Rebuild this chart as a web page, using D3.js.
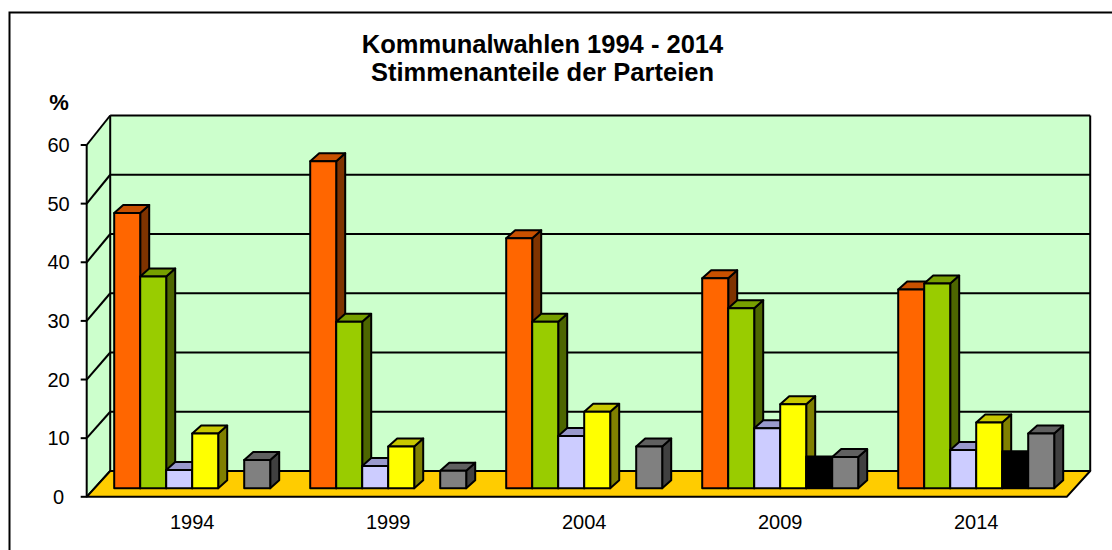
<!DOCTYPE html>
<html>
<head>
<meta charset="utf-8">
<script src="https://cdn.jsdelivr.net/npm/d3@7"></script>
<style>
  html, body { margin: 0; padding: 0; background: #ffffff; }
  svg { display: block; font-family: "Liberation Sans", Arial, sans-serif; }
</style>
</head>
<body>
<svg id="chart" width="1112" height="550"></svg>
<script>
// Election years (categories)
const years = ["1994", "1999", "2004", "2009", "2014"];

// Vote shares in percent, one array per party
const partyOrange = [46.8, 55.6, 42.5, 35.7, 33.8];
const partyGreen  = [36.0, 28.3, 28.3, 30.6, 34.8];
const partyLilac  = [3.1, 3.8, 8.9, 10.2, 6.5];
const partyYellow = [9.3, 7.1, 13.0, 14.3, 11.2];
const partyBlack  = [0, 0, 0, 5.4, 6.3];
const partyGrey   = [4.8, 3.0, 7.1, 5.3, 9.3];

// Value axis ticks
const yTicks = [0, 10, 20, 30, 40, 50, 60];

const titleLines = ["Kommunalwahlen 1994 - 2014", "Stimmenanteile der Parteien"];

// Face colours: front, top, right side (null = face not painted)
const faceColors = [
  ["#FF6600", "#C85000", "#7F3300"],
  ["#99CC00", "#779F00", "#4D6600"],
  ["#CCCCFF", "#9999CC", "#666699"],
  ["#FFFF00", "#C8C800", "#808000"],
  ["#000000", null, null],
  ["#808080", "#606060", "#404040"]
];

const series = [partyOrange, partyGreen, partyLilac, partyYellow, partyBlack, partyGrey];

const svg = d3.select("#chart");

// ---- geometry of the 3D box ----
const frontLeft = 86.7, frontRight = 1066.7;
const wallDX = 23.5;                         // depth shift of the back wall
const yFront = d3.scaleLinear().domain([0, 60]).range([496.8, 145]);
const yBack  = d3.scaleLinear().domain([0, 60]).range([471, 115.5]);

// bars stand on a plane slightly behind the front edge
const barShiftX = 7.5;
const yBar = d3.scaleLinear().domain([0, 60]).range([488.3, 488.3 - 60 * 5.883]);
const barDX = 9, barDY = -8;                 // bar depth

const xCat = d3.scaleBand()
  .domain(years)
  .range([frontLeft, frontRight])
  .paddingInner(40 / 196)
  .paddingOuter(20 / 196);
const xSer = d3.scaleBand()
  .domain(d3.range(series.length))
  .range([0, xCat.bandwidth()]);

const backLeft = frontLeft + wallDX, backRight = frontRight + wallDX;

// ---- outer frame ----
svg.append("rect")
  .attr("x", 9.5).attr("y", 12.5)
  .attr("width", 1200).attr("height", 600)
  .attr("fill", "#ffffff").attr("stroke", "#000").attr("stroke-width", 2);

// ---- walls ----
const wallColor = "#CCFFCC";
svg.append("rect")
  .attr("x", backLeft).attr("y", yBack(60))
  .attr("width", backRight - backLeft).attr("height", yBack(0) - yBack(60))
  .attr("fill", wallColor);
svg.append("polygon")
  .attr("points", [
    [frontLeft, yFront(60)], [backLeft, yBack(60)],
    [backLeft, yBack(0)], [frontLeft, yFront(0)]
  ].map(p => p.join(",")).join(" "))
  .attr("fill", wallColor);

// gridlines on back wall and side wall
const grid = svg.append("g").attr("stroke", "#000").attr("stroke-width", 2).attr("fill", "none");
yTicks.forEach(v => {
  grid.append("line")
    .attr("x1", backLeft).attr("x2", backRight)
    .attr("y1", yBack(v)).attr("y2", yBack(v));
  grid.append("line")
    .attr("x1", frontLeft).attr("y1", yFront(v))
    .attr("x2", backLeft).attr("y2", yBack(v));
});
// wall edges
grid.append("line")
  .attr("x1", backLeft).attr("x2", backLeft)
  .attr("y1", yBack(60)).attr("y2", yBack(0));
grid.append("line")
  .attr("x1", backRight).attr("x2", backRight)
  .attr("y1", yBack(60)).attr("y2", yBack(0));

// ---- floor ----
svg.append("polygon")
  .attr("points", [
    [frontLeft, yFront(0)], [frontRight, yFront(0)],
    [backRight, yBack(0)], [backLeft, yBack(0)]
  ].map(p => p.join(",")).join(" "))
  .attr("fill", "#FFCC00")
  .attr("stroke", "#000").attr("stroke-width", 2).attr("stroke-linejoin", "round");

// ---- bars ----
const barsG = svg.append("g")
  .attr("stroke", "#000").attr("stroke-width", 2).attr("stroke-linejoin", "round");

years.forEach((yr, i) => {
  series.forEach((vals, j) => {
    const v = vals[i];
    if (!v) return;
    const x0 = xCat(yr) + xSer(j) + barShiftX;
    const x1 = x0 + xSer.bandwidth();
    const yt = yBar(v), yb = yBar(0);
    const [cFront, cTop, cSide] = faceColors[j];
    if (cSide) {
      barsG.append("polygon")
        .attr("points", [[x1, yt], [x1 + barDX, yt + barDY], [x1 + barDX, yb + barDY], [x1, yb]]
          .map(p => p.join(",")).join(" "))
        .attr("fill", cSide);
    }
    if (cTop) {
      barsG.append("polygon")
        .attr("points", [[x0, yt], [x1, yt], [x1 + barDX, yt + barDY], [x0 + barDX, yt + barDY]]
          .map(p => p.join(",")).join(" "))
        .attr("fill", cTop);
    }
    barsG.append("rect")
      .attr("x", x0).attr("y", yt)
      .attr("width", x1 - x0).attr("height", yb - yt)
      .attr("fill", cFront);
  });
});

// ---- value axis ----
const axisG = svg.append("g").attr("stroke", "#000").attr("stroke-width", 2);
axisG.append("line")
  .attr("x1", frontLeft).attr("x2", frontLeft)
  .attr("y1", yFront(60)).attr("y2", yFront(0));
yTicks.forEach(v => {
  axisG.append("line")
    .attr("x1", frontLeft - 6).attr("x2", frontLeft)
    .attr("y1", yFront(v)).attr("y2", yFront(v));
});

svg.append("g")
  .selectAll("text")
  .data(yTicks)
  .join("text")
  .attr("x", 58.5)
  .attr("y", d => yFront(d) + 7)
  .attr("text-anchor", "middle")
  .attr("font-size", 20)
  .attr("fill", "#000")
  .text(d => d);

svg.append("text")
  .attr("x", 59).attr("y", 110)
  .attr("text-anchor", "middle")
  .attr("font-size", 22).attr("font-weight", "bold")
  .text("%");

// ---- category labels ----
svg.append("g")
  .selectAll("text")
  .data(years)
  .join("text")
  .attr("x", d => xCat(d) + xCat.bandwidth() / 2 + barShiftX)
  .attr("y", 529.3)
  .attr("text-anchor", "middle")
  .attr("font-size", 20)
  .attr("fill", "#000")
  .text(d => d);

// ---- title ----
svg.append("g")
  .selectAll("text")
  .data(titleLines)
  .join("text")
  .attr("x", 542.5)
  .attr("y", (d, i) => 53 + i * 28)
  .attr("text-anchor", "middle")
  .attr("font-size", 25.5)
  .attr("font-weight", "bold")
  .attr("fill", "#000")
  .text(d => d);
</script>
</body>
</html>
